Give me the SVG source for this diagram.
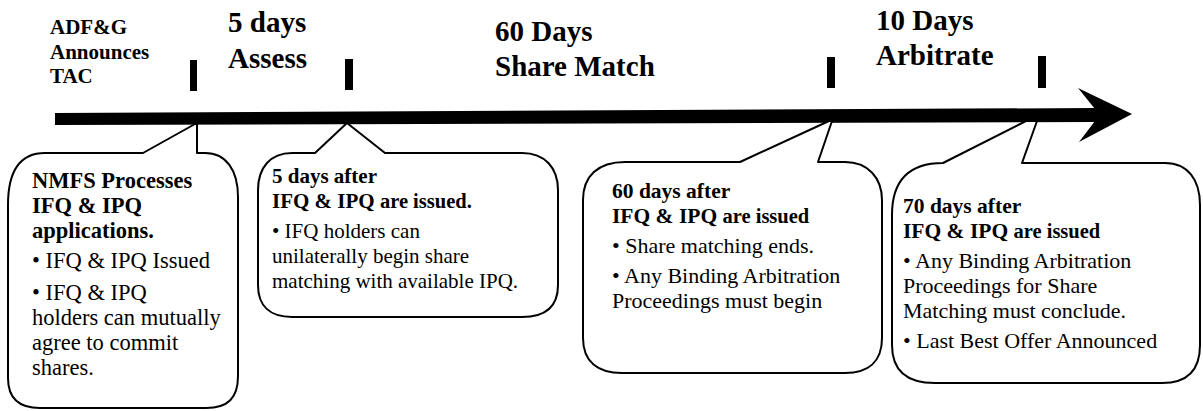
<svg xmlns="http://www.w3.org/2000/svg" width="1203" height="411" viewBox="0 0 1203 411">
<style>
text{font-family:"Liberation Serif","Times New Roman",serif;fill:#000}
.h{font-size:21px;font-weight:bold}
.t{font-size:29px;font-weight:bold}
.b1{font-size:22.5px;font-weight:bold}
.r1{font-size:22.5px}
.b2{font-size:21px;font-weight:bold}
.r2{font-size:21px}
.b{font-size:21.5px;font-weight:bold}
.r{font-size:22px}
.sm{font-size:20.5px}
.box{fill:#fff;stroke:#000;stroke-width:2;stroke-linejoin:round}
.tick{fill:#000}
</style>
<rect width="1203" height="411" fill="#fff"/>
<g id="timeline">
<polygon points="55,113 1095,108 1095,122 55,125" fill="#000"/>
<polygon points="1078,88 1132,114 1079,142 1095,121 1095,109" fill="#000"/>
<rect class="tick" x="190" y="60" width="7" height="31"/>
<rect class="tick" x="345" y="59" width="8" height="31"/>
<rect class="tick" x="827" y="57" width="8" height="31"/>
<rect class="tick" x="1038" y="56" width="8" height="32"/>
</g>
<g id="phase-labels">
<text class="h" x="50" y="34">ADF&amp;G</text>
<text class="h" x="50" y="59">Announces</text>
<text class="h" x="50" y="83">TAC</text>
<text class="t" x="228" y="32">5 days</text>
<text class="t" x="228" y="68">Assess</text>
<text class="t" x="495" y="41">60 Days</text>
<text class="t" x="495" y="76">Share Match</text>
<text class="t" x="876" y="30">10 Days</text>
<text class="t" x="876" y="65">Arbitrate</text>
</g>
<g id="callout1">
<path class="box" d="M143,153 L195,124 L197,124 L197,153 L205,153 C226,153 238,170 238,197 L238,376 C238,398 228,408 206,408 L40,408 C18,408 8,398 8,378 L8,205 C8,170 20,153 45,153 Z"/>
<text class="b1" x="32" y="188">NMFS Processes</text>
<text class="b1" x="32" y="213">IFQ &amp; IPQ</text>
<text class="b1" x="32" y="238">applications.</text>
<text class="r1" x="32" y="268">• IFQ &amp; IPQ Issued</text>
<text class="r1" x="32" y="300">• IFQ &amp; IPQ</text>
<text class="r1" x="32" y="325">holders can mutually</text>
<text class="r1" x="32" y="350">agree to commit</text>
<text class="r1" x="32" y="375">shares.</text>
</g>
<g id="callout2">
<path class="box" d="M315,153 L347,123 L385,153 L522,153 C545,153 558,168 558,190 L558,285 C558,306 546,317 522,317 L292,317 C270,317 258,306 258,285 L258,190 C258,168 270,153 292,153 Z"/>
<text class="b2" x="272" y="183">5 days after</text>
<text class="b2" x="272" y="208">IFQ &amp; IPQ <tspan class="sm">are issued.</tspan></text>
<text class="r2" x="272" y="238">• IFQ holders can</text>
<text class="r2" x="272" y="263">unilaterally begin share</text>
<text class="r2" x="272" y="288">matching with available IPQ.</text>
</g>
<g id="callout3">
<path class="box" d="M740,162 L829,121 L832,121 L818,162 L845,162 C868,162 882,178 882,200 L882,338 C882,362 868,373 845,373 L622,373 C598,373 583,362 583,338 L583,200 C583,176 598,162 625,162 Z"/>
<text class="b" x="612" y="198">60 days after</text>
<text class="b" x="612" y="223">IFQ &amp; IPQ <tspan class="sm">are issued</tspan></text>
<text class="r" x="612" y="253">• Share matching ends.</text>
<text class="r" x="612" y="283">• Any Binding Arbitration</text>
<text class="r" x="612" y="308">Proceedings must begin</text>
</g>
<g id="callout4">
<path class="box" d="M943,163 L1026,121 L1037,121 L1022,163 L1165,163 C1188,163 1200,180 1200,205 L1200,345 C1200,370 1188,383 1162,383 L935,383 C906,383 892,370 892,345 L892,215 C892,180 910,163 943,163 Z"/>
<text class="b" x="903" y="213">70 days after</text>
<text class="b" x="903" y="238">IFQ &amp; IPQ <tspan class="sm">are issued</tspan></text>
<text class="r" x="903" y="268">• Any Binding Arbitration</text>
<text class="r" x="903" y="293">Proceedings for Share</text>
<text class="r" x="903" y="318">Matching must conclude.</text>
<text class="r" x="903" y="348">• Last Best Offer Announced</text>
</g>
</svg>
